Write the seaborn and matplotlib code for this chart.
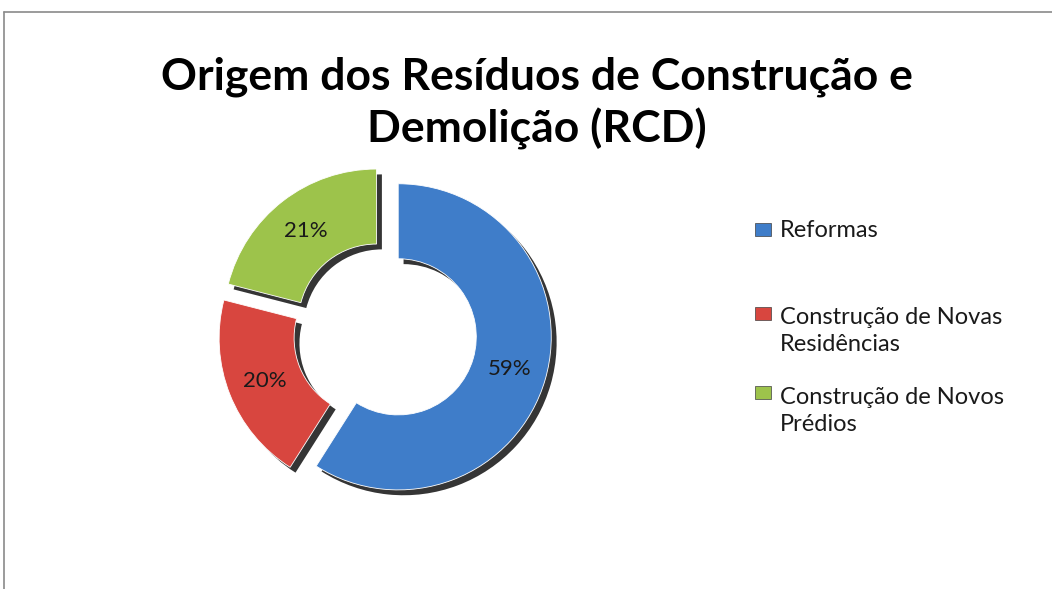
import matplotlib
matplotlib.use("Agg")
import matplotlib.pyplot as plt
import seaborn as sns
from matplotlib.lines import Line2D
from matplotlib.patches import Rectangle

categories = ["Reformas", "Construção de Novas\nResidências", "Construção de Novos\nPrédios"]
values = [59, 20, 21]
colors = ["#3F7DC9", "#D8463F", "#9DC34B"]
title = "Origem dos Resíduos de Construção e\nDemolição (RCD)"

W, H = 1052, 589

sns.set_theme(style="white")
plt.rcParams["font.family"] = ["Lato", "DejaVu Sans"]

fig = plt.figure(figsize=(W / 100, H / 100), dpi=100)
ax = fig.add_axes([0.1768, 0.0968, 0.3783, 0.6757])

explode = [0.09] * len(values)
# shadow
ax.pie(values, startangle=90, counterclock=False, explode=explode, radius=1.0,
       center=(0.035, -0.035), colors=["#111111"] * 3,
       wedgeprops=dict(width=0.49, edgecolor="none", alpha=0.85))
wedges, texts, autotexts = ax.pie(
    values, startangle=90, counterclock=False, explode=explode, radius=1.0,
    colors=colors, autopct="%1.0f%%", pctdistance=0.755,
    wedgeprops=dict(width=0.49, edgecolor="white", linewidth=0.6),
    textprops=dict(fontsize=16, color="#1a1a1a"))
ax.set_xlim(-1.3, 1.3)
ax.set_ylim(-1.3, 1.3)
ax.set_aspect("equal")
ax.axis("off")

# title (baseline of last line at y=142 px)
fig.text(0.51, 1 - 142 / H, title, ha="center", va="baseline", fontsize=32, fontweight="bold",
         linespacing=1.3, color="black")

# legend (markers aligned with the first line of each label)
marker_y = [229, 313, 392]
last_baseline = [237, 351, 431]
for lab, col, my, bl in zip(categories, colors, marker_y, last_baseline):
    fig.add_artist(Rectangle((755 / W, 1 - (my + 6.5) / H), 16 / W, 13 / H,
                             facecolor=col, edgecolor="#404040", linewidth=0.5,
                             transform=fig.transFigure))
    fig.text(780 / W, 1 - bl / H, lab, ha="left", va="baseline", fontsize=17,
             linespacing=1.35, color="#1a1a1a")

# outer frame (top and left only visible)
fig.add_artist(Line2D([4 / W, 4 / W], [0, 1 - 12 / H], color="#8a8a8a", lw=1.2,
                      transform=fig.transFigure))
fig.add_artist(Line2D([4 / W, 1], [1 - 12 / H, 1 - 12 / H], color="#8a8a8a", lw=1.2,
                      transform=fig.transFigure))

fig.savefig("out.png", dpi=100)
